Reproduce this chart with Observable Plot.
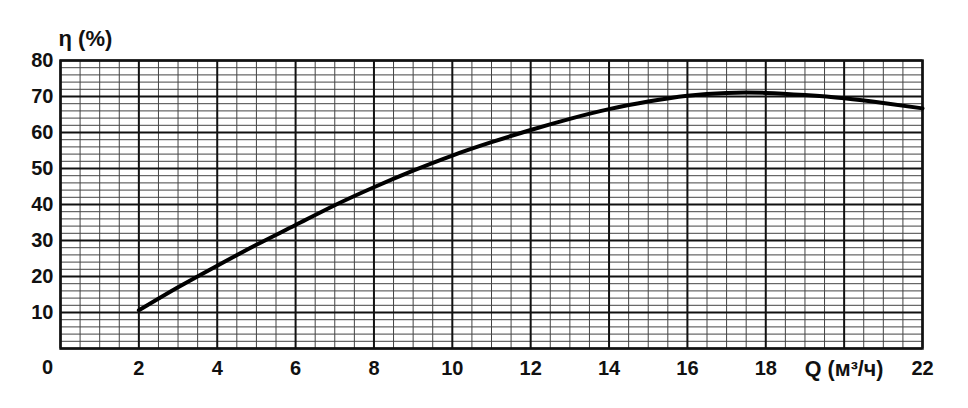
<!DOCTYPE html>
<html>
<head>
<meta charset="utf-8">
<script src="https://cdn.jsdelivr.net/npm/d3@7"></script>
<script src="https://cdn.jsdelivr.net/npm/@observablehq/plot@0.6"></script>
<style>
  html, body { margin: 0; padding: 0; background: #fff; }
  #chart svg { display: block; }
  #chart svg text { font-family: "Liberation Sans", Arial, sans-serif !important; font-size: 20px !important; font-weight: bold !important; fill: #111; }
  #chart svg text.ytitle { font-size: 22px !important; }
  #chart svg text.xtitle { font-size: 21.5px !important; }
</style>
</head>
<body>
<div id="chart"></div>
<script>
// Data: flow Q (m³/h) vs efficiency η (%)
const flowQ = [2, 3, 4, 5, 6, 7, 8, 9, 10, 11, 12, 13, 14, 15, 16, 17, 18, 19, 20, 21, 22];
const efficiency = [10.6, 17.0, 23.0, 28.8, 34.3, 39.8, 44.8, 49.4, 53.6, 57.3, 60.7, 63.8, 66.5, 68.6, 70.2, 71.0, 71.0, 70.4, 69.5, 68.2, 66.7];
const xTickValues = [2, 4, 6, 8, 10, 12, 14, 16, 18, 20, 22];
const yTickValues = [10, 20, 30, 40, 50, 60, 70, 80];
const xAxisTitle = "Q (м³/ч)";
const yAxisTitle = "η (%)";
const originLabel = "0";

const points = flowQ.map((q, i) => ({q, eta: efficiency[i]}));
const xGrid = d3.range(0, 22.01, 0.5);
const yGrid = d3.range(0, 80.01, 2);

const chart = Plot.plot({
  width: 968,
  height: 408,
  marginLeft: 60,
  marginRight: 46,
  marginTop: 60,
  marginBottom: 60,
  style: {background: "#fff", color: "#111"},
  x: {domain: [0, 22]},
  y: {domain: [0, 80]},
  marks: [
    // minor grid
    Plot.ruleX(xGrid.filter(v => v % 2 !== 0), {stroke: "#444", strokeWidth: 1}),
    Plot.ruleY(yGrid.filter(v => v % 10 !== 0), {stroke: "#444", strokeWidth: 1}),
    // major grid
    Plot.ruleX(xGrid.filter(v => v % 2 === 0), {stroke: "#111", strokeWidth: 2}),
    Plot.ruleY(yGrid.filter(v => v % 10 === 0), {stroke: "#111", strokeWidth: 2}),
    Plot.frame({stroke: "#111", strokeWidth: 2.5}),
    Plot.axisX({ticks: xTickValues, tickSize: 0, tickPadding: 12,
      tickFormat: d => d === 20 ? xAxisTitle : String(d), label: null}),
    Plot.text([0], {x: d => d, frameAnchor: "bottom", lineAnchor: "middle", dy: 19, dx: -13, text: () => originLabel}),
    Plot.axisY({ticks: yTickValues, tickSize: 0, tickPadding: 7, label: null}),
    Plot.text([yAxisTitle], {frameAnchor: "top-left", lineAnchor: "middle", dy: -22, dx: -2, text: d => d, textAnchor: "start"}),
    Plot.line(points, {x: "q", y: "eta", curve: "natural", stroke: "#000", strokeWidth: 4})
  ]
});
chart.querySelectorAll("text").forEach(t => {
  if (t.textContent.includes("η")) t.classList.add("ytitle");
  if (t.textContent.includes("Q")) t.classList.add("xtitle");
});
document.getElementById("chart").append(chart);
</script>
</body>
</html>
